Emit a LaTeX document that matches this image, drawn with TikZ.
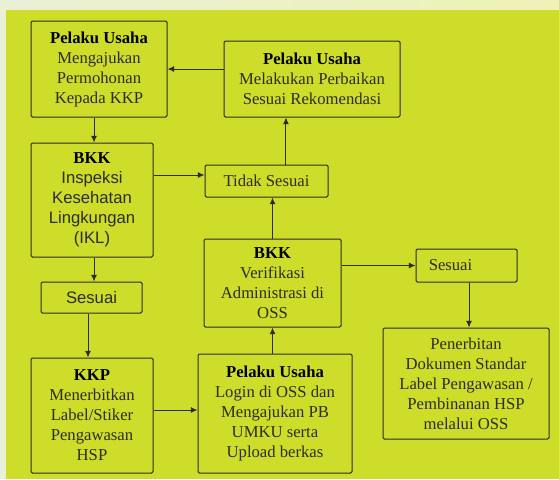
\documentclass[tikz,border=0pt]{standalone}
\usepackage{fontspec}
\setmainfont{Liberation Serif}
\newfontfamily\sansfnt{Liberation Sans}
\usetikzlibrary{arrows.meta}

\definecolor{bgpale}{RGB}{234,240,214}
\definecolor{bgstrip}{RGB}{238,242,182}
\definecolor{bggreen}{RGB}{206,220,42}
\definecolor{boxline}{RGB}{45,45,40}
\definecolor{bodytext}{RGB}{45,45,40}

\tikzset{every picture/.style={line width=0.75pt}}
\tikzset{
  flowbox/.style={draw=boxline, rounded corners=1pt, inner sep=0pt, align=center,
    font=\fontsize{12.5}{15}\selectfont, text=bodytext},
  flowarr/.style={draw=boxline, -{Latex[length=5pt,width=4.5pt]}}
}
\newcommand{\hd}[1]{\textcolor{black}{\textbf{#1}}}

\begin{document}
\begin{tikzpicture}[x=0.75pt,y=0.75pt,yscale=-1,xscale=1]
\useasboundingbox (0,0) rectangle (559,479);

%Shape: Rectangle (background)
\fill [bgpale] (0,0) rectangle (559,479);
\shade [left color=bgpale, right color=bgstrip] (6,0) rectangle (559,10);
\fill [bggreen] (6,10) rectangle (559,479);

% Text Node
\node [flowbox, minimum width=102pt, minimum height=72pt] (ajukan) at (99,69)
  {\hd{Pelaku Usaha}\\Mengajukan\\Permohonan\\Kepada KKP};
% Text Node
\node [flowbox, minimum width=132pt, minimum height=57pt] (perbaikan) at (312,79)
  {\hd{Pelaku Usaha}\\Melakukan Perbaikan\\Sesuai Rekomendasi};
% Text Node
\node [flowbox, minimum width=91.5pt, minimum height=85.5pt] (ikl) at (92,200)
  {\hd{BKK}\\{\sansfnt Inspeksi}\\{\sansfnt Kesehatan}\\{\sansfnt Lingkungan}\\{\sansfnt (IKL)}};
% Text Node
\node [flowbox, minimum width=75.75pt, minimum height=23.25pt] (sesuaikiri) at (91.5,297.5)
  {\sansfnt Sesuai};
% Text Node
\node [flowbox, minimum width=92.25pt, minimum height=24pt] (tidak) at (266.5,181)
  {Tidak Sesuai};
% Text Node
\node [flowbox, minimum width=102.75pt, minimum height=66pt] (verifikasi) at (272.5,283)
  {\hd{BKK}\\Verifikasi\\Administrasi di\\OSS};
% Text Node
\node [flowbox, minimum width=75.75pt, minimum height=24.75pt] (sesuaikanan) at (466.5,265.5)
  {Sesuai\hspace{24pt}};
% Text Node
\node [flowbox, minimum width=124.5pt, minimum height=83.25pt] (terbit) at (466,383.5)
  {Penerbitan\\Dokumen Standar\\Label Pengawasan /\\Pembinanan HSP\\melalui OSS};
% Text Node
\node [flowbox, minimum width=115.5pt, minimum height=89.25pt] (login) at (275,413.5)
  {\hd{Pelaku Usaha}\\Login di OSS dan\\Mengajukan PB\\UMKU serta\\Upload berkas};
% Text Node
\node [flowbox, minimum width=91.5pt, minimum height=86.25pt] (kkp) at (92,415.5)
  {\hd{KKP}\\Menerbitkan\\Label/Stiker\\Pengawasan\\HSP};

\coordinate (tidakin) at ([yshift=-4.5pt]tidak.west);
\coordinate (tidakout) at ([xshift=14.6pt]tidak.north);

%Straight Lines
\draw [flowarr] (perbaikan.west |- ajukan.east) -- (ajukan.east);
\draw [flowarr] (ajukan.south -| 94,0) -- (94,0 |- ikl.north);
\draw [flowarr] (ikl.south -| 94,0) -- (94,0 |- sesuaikiri.north);
\draw [flowarr] (ikl.east |- tidakin) -- (tidakin);
\draw [flowarr] (tidakout) -- (tidakout |- perbaikan.south);
\draw [flowarr] (verifikasi.north) -- (verifikasi.north |- tidak.south);
\draw [flowarr] (verifikasi.east |- sesuaikanan.west) -- (sesuaikanan.west);
\draw [flowarr] (sesuaikanan.south -| 469,0) -- (469,0 |- terbit.north);
\draw [flowarr] (login.north -| verifikasi.south) -- (verifikasi.south);
\draw [flowarr] (sesuaikiri.south -| 88,0) -- (88,0 |- kkp.north);
\draw [flowarr] (kkp.east |- 0,410) -- (login.west |- 0,410);

\end{tikzpicture}
\end{document}
